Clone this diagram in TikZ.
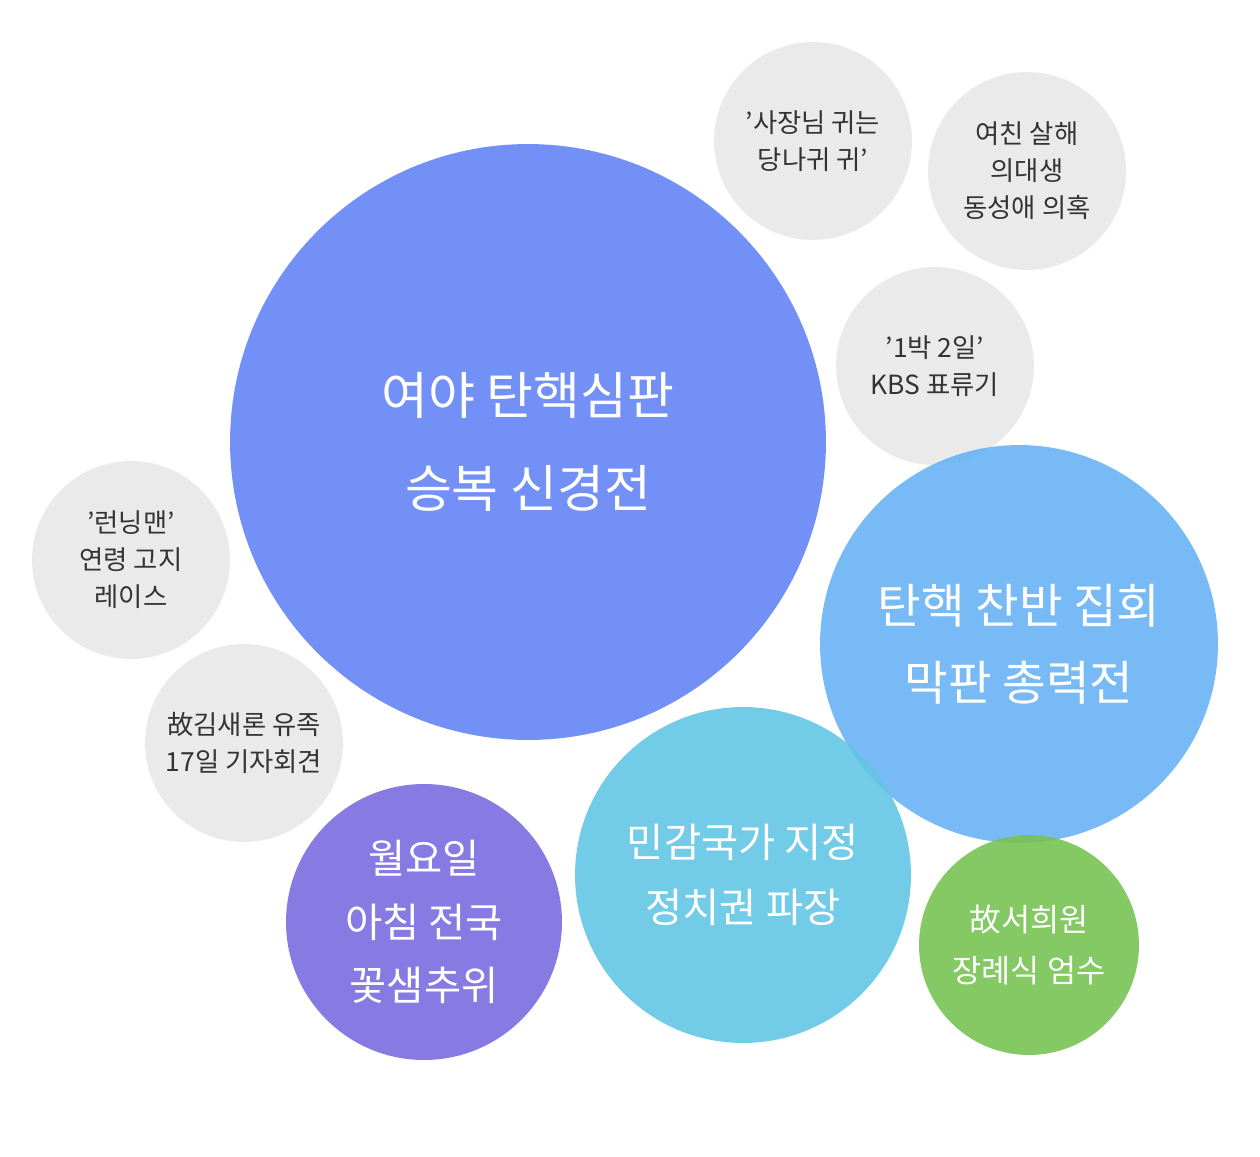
\documentclass[tikz,border=0pt]{standalone}
\usepackage{fontspec}
\setmainfont{Noto Sans CJK KR}
\definecolor{cbig}{HTML}{6384F5}
\definecolor{clb}{HTML}{68B3F5}
\definecolor{ccy}{HTML}{63C6E5}
\definecolor{cpu}{HTML}{7B6BE0}
\definecolor{cgr}{HTML}{78C354}
\definecolor{cgy}{HTML}{E8E8E8}
\definecolor{ctx}{HTML}{333333}
\tikzset{
 bub/.style={circle,inner sep=0pt,fill opacity=0.9,text opacity=1,align=center},
 grey/.style={bub,fill=cgy,minimum size=3.96cm,text=ctx,font=\fontsize{15}{21}\selectfont},
}
\begin{document}
\begin{tikzpicture}[x=0.02cm,y=-0.02cm]
\useasboundingbox (0,0) rectangle (1260,1156);
\node[grey] (g1) at (813,141) {'사장님 귀는\\당나귀 귀'};
\node[grey] (g2) at (1027,171) {여친 살해\\의대생\\동성애 의혹};
\node[grey] (g3) at (935,366) {'1박 2일'\\KBS 표류기};
\node[grey] (g4) at (131,560) {'런닝맨'\\연령 고지\\레이스};
\node[grey] (g5) at (244,743) {故김새론 유족\\17일 기자회견};
\node[bub,fill=cbig,minimum size=11.92cm,text=white,font=\fontsize{29}{53}\selectfont] (b1) at (528,442) {여야 탄핵심판\\승복 신경전};
\node[bub,fill=clb,minimum size=7.96cm,text=white,font=\fontsize{27}{44}\selectfont] (b2) at (1019,644) {탄핵 찬반 집회\\막판 총력전};
\node[bub,fill=ccy,minimum size=6.72cm,text=white,font=\fontsize{23}{37}\selectfont] (b3) at (743,875) {민감국가 지정\\정치권 파장};
\node[bub,fill=cpu,minimum size=5.52cm,text=white,font=\fontsize{23}{36}\selectfont] (b4) at (424,922) {월요일\\아침 전국\\꽃샘추위};
\node[bub,fill=cgr,minimum size=4.4cm,text=white,font=\fontsize{18}{29}\selectfont] (b5) at (1029,945) {故서희원\\장례식 엄수};
\end{tikzpicture}
\end{document}
